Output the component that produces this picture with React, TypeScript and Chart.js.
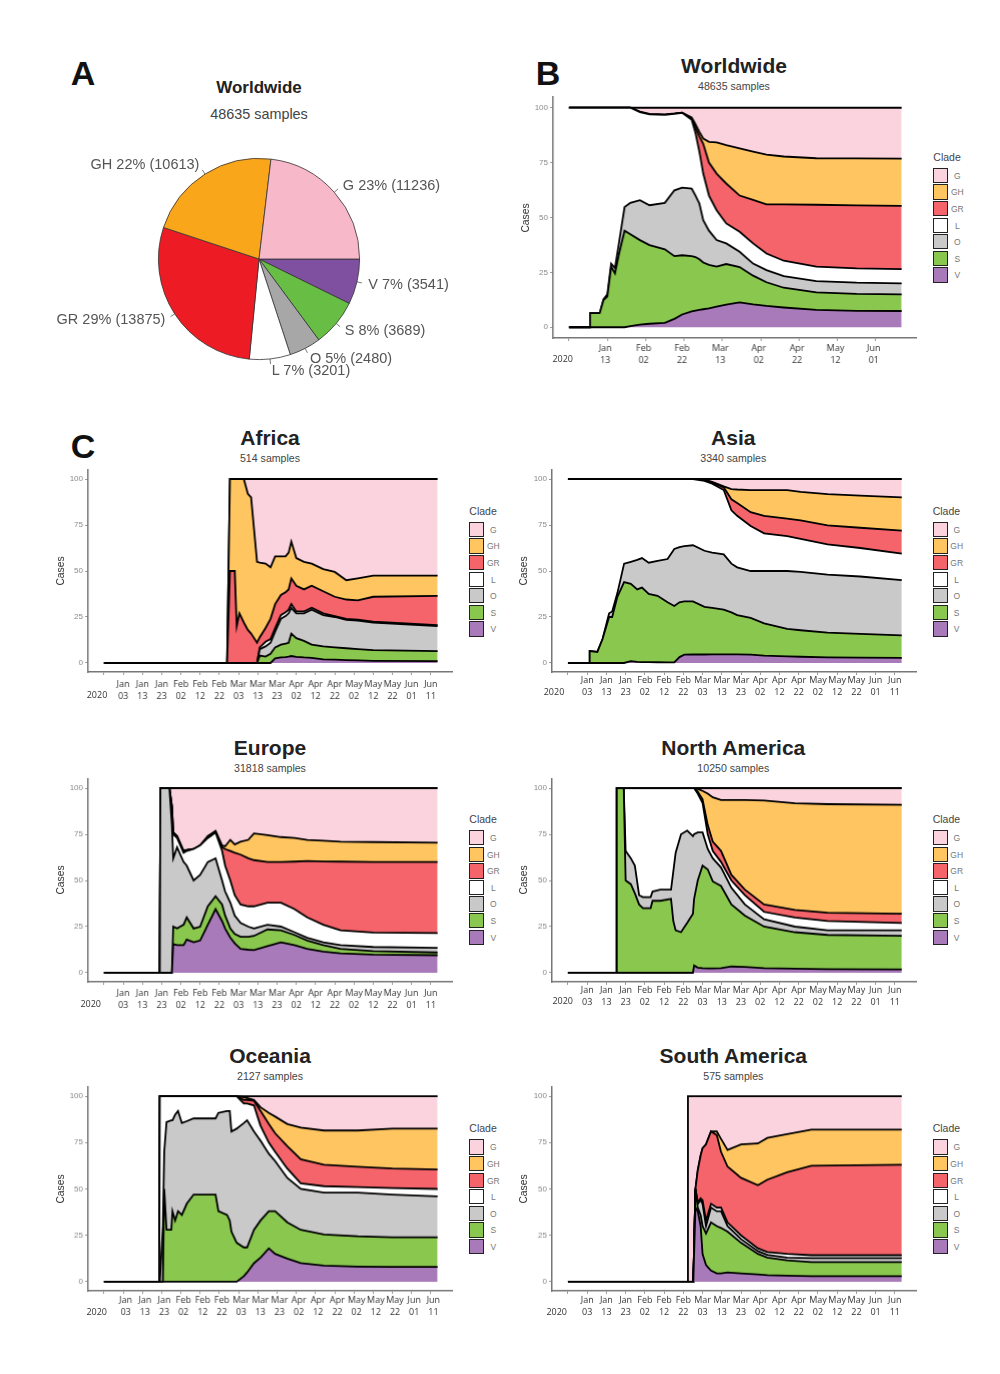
import { useEffect, useRef } from "react";
import { Chart, registerables } from "chart.js";

Chart.register(...registerables);

const clades = ["G", "GH", "GR", "L", "O", "S", "V"];
const cladeColors = ["#FAD3DE", "#FFC561", "#F4646A", "#FFFFFF", "#C9C9C9", "#8AC74F", "#A97AB9"];

// pie, clockwise from 3 o'clock, so the order is the reverse of the legend
const pieClades = ["V", "S", "O", "L", "GR", "GH", "G"];
const pieCounts = [3541, 3689, 2480, 3201, 13875, 10613, 11236];
const piePercents = [7, 8, 5, 7, 29, 22, 23];
const pieColors = ["#7F4FA0", "#68BD45", "#A7A7A7", "#FFFFFF", "#ED1C24", "#FAA61A", "#F7B8C9"];

// x axis ticks, days since 24 Dec 2019
const fineTicks = [0, 10, 20, 30, 40, 50, 60, 70, 80, 90, 100, 110, 120, 130, 140, 150, 160, 170];
const fineMonths = ["", "Jan", "Jan", "Jan", "Feb", "Feb", "Feb", "Mar", "Mar", "Mar", "Apr", "Apr", "Apr", "May", "May", "May", "Jun", "Jun"];
const fineDates = ["", "03", "13", "23", "02", "12", "22", "03", "13", "23", "02", "12", "22", "02", "12", "22", "01", "11"];
const coarseTicks = [0, 20, 40, 60, 80, 100, 120, 140, 160];
const coarseMonths = ["", "Jan", "Feb", "Feb", "Mar", "Apr", "Apr", "May", "Jun"];
const coarseDates = ["", "13", "02", "22", "13", "02", "22", "12", "01"];
const yTicks = [0, 25, 50, 75, 100];

// Each series is the upper edge of that clade's band

// Worldwide
const worldDays = [0, 10.8, 11, 16, 18, 20, 22, 24, 26, 29, 32, 37, 42, 50, 55, 59, 64, 66, 68, 70, 73, 77, 82, 89, 96, 103, 112, 129, 150, 173.5];
const worldV = [0, 0, 0, 0, 0, 0, 0, 0, 0, 0, 0.5, 1.2, 1.6, 2, 3.8, 5.8, 7.2, 7.6, 7.9, 8.2, 8.6, 9.4, 10.3, 11.3, 10.4, 9.7, 9, 7.9, 7.5, 7.4];
const worldS = [0, 0, 6.4, 6.4, 12.4, 14, 27.6, 24.5, 33, 44, 42.4, 39.7, 37.4, 35.5, 32.4, 32.8, 32.4, 32, 31, 29.5, 28.4, 27.6, 28.8, 27.4, 23.5, 20.5, 18, 15.9, 15.2, 15];
const worldO = [0, 0, 6.4, 6.4, 12.8, 15, 29, 27, 38, 54.8, 56.7, 57.9, 55.6, 56.7, 62.4, 63.6, 63.2, 60, 56.4, 48.8, 44, 39.7, 38.2, 34.4, 29, 26, 23.3, 21, 20.3, 20];
const worldL = [100, 100, 100, 100, 100, 100, 100, 100, 100, 100, 100, 98, 97, 96.8, 97.2, 97.7, 94.5, 88.5, 80, 70, 60, 53.3, 47.3, 43.5, 38.2, 33.6, 30.3, 27.6, 26.8, 26.5];
const worldGR = [100, 100, 100, 100, 100, 100, 100, 100, 100, 100, 100, 98, 97, 96.8, 97.2, 97.7, 95, 91, 87, 83.6, 75, 70, 65.5, 60, 58, 56, 56, 55.8, 55.5, 55.3];
const worldGH = [100, 100, 100, 100, 100, 100, 100, 100, 100, 100, 100, 98.2, 97.2, 97, 97.4, 97.8, 95.6, 92.5, 89, 86, 84.5, 84.2, 83, 81.5, 80, 78.6, 77.8, 77, 76.9, 76.8];
const worldG = [100, 100, 100, 100, 100, 100, 100, 100, 100, 100, 100, 100, 100, 100, 100, 100, 100, 100, 100, 100, 100, 100, 100, 100, 100, 100, 100, 100, 100, 100];

// Africa
const africaDays = [0, 64, 65.5, 68, 69, 70.4, 72.7, 74.8, 76.5, 79.6, 81, 84, 86.6, 89, 92, 94.4, 96, 97.4, 100, 104, 108, 114, 120, 126, 132, 140, 173.5];
const africaV = [0, 0, 0, 0, 0, 0, 0, 0, 0, 0, 0, 0, 0, 2.5, 3, 3.2, 3.5, 3.8, 3.3, 3, 2.8, 2, 1.8, 1.6, 1.4, 1.2, 1];
const africaS = [0, 0, 0, 0, 0, 0, 0, 0, 0, 0, 4, 3.5, 5, 8.5, 10, 10.5, 11, 16, 13.5, 12, 10, 9, 8.5, 8, 7.5, 7, 6.5];
const africaO = [0, 0, 0, 0, 0, 0, 0, 0, 0, 0, 7.5, 9, 11, 17, 24, 25.5, 27, 30, 27, 27, 29, 26, 25, 23.5, 23, 22, 20];
const africaL = [0, 0, 0, 0, 0, 0, 0, 0, 0, 0, 8.5, 11.5, 13, 19, 26, 27.5, 29, 32, 28, 28, 30, 27, 25.5, 24, 23.5, 22.5, 20.6];
const africaGR = [0, 0, 50, 50, 20, 27, 22, 18, 16, 11, 14, 19, 24, 32, 37, 38.5, 40, 46, 42, 40, 42, 39, 36, 34.5, 34, 36, 36.5];
const africaGH = [0, 0, 100, 100, 100, 100, 100, 92, 90, 55, 54.5, 54, 52, 58, 58, 58, 60, 66, 57, 55, 54, 51, 49.5, 45, 46, 47.5, 47.5];
const africaG = [0, 0, 100, 100, 100, 100, 100, 100, 100, 100, 100, 100, 100, 100, 100, 100, 100, 100, 100, 100, 100, 100, 100, 100, 100, 100, 100];

// Asia
const asiaDays = [0, 11, 11.3, 15.3, 18, 21.4, 23, 25.7, 29.2, 32.7, 36, 38.5, 42, 46.6, 51.8, 55.3, 58, 60.5, 65, 71, 75, 81, 85, 88, 95, 102, 114, 121, 135, 152, 173.6];
const asiaV = [0, 0, 0, 0, 0, 0, 0, 0, 0, 1, 0.6, 0.5, 0.5, 0.4, 0.3, 0.3, 3.2, 4.5, 4.6, 4.6, 4.7, 4.7, 4.7, 4.7, 4.5, 4, 3.6, 3.4, 3, 2.9, 2.8];
const asiaS = [0, 0, 6.5, 6, 13, 25, 25, 36, 44, 43, 40, 41, 37.5, 36.5, 33, 31, 33, 33.5, 33.5, 30.5, 30, 29, 27.5, 26, 24.5, 21.5, 18.5, 17.8, 16.5, 15.8, 15];
const asiaO = [0, 0, 6.5, 6, 13, 27, 28, 38, 54, 55, 56, 57, 54.5, 55.5, 56.5, 62, 63, 63.5, 64, 61, 60, 59, 54, 52, 50, 50, 50, 49.5, 48, 47, 45];
const asiaL = [100, 100, 100, 100, 100, 100, 100, 100, 100, 100, 100, 100, 100, 100, 100, 100, 100, 100, 100, 99, 97.5, 94, 83, 80, 74.5, 70.5, 69, 67.5, 64.5, 62.5, 59.5];
const asiaGR = [100, 100, 100, 100, 100, 100, 100, 100, 100, 100, 100, 100, 100, 100, 100, 100, 100, 100, 100, 99.5, 98, 95.5, 89, 87, 82, 80, 78.5, 77.5, 74.8, 73.5, 72];
const asiaGH = [100, 100, 100, 100, 100, 100, 100, 100, 100, 100, 100, 100, 100, 100, 100, 100, 100, 100, 100, 99.7, 98.5, 96, 94.5, 94.3, 94, 94, 94, 93, 91.8, 91, 90];
const asiaG = [100, 100, 100, 100, 100, 100, 100, 100, 100, 100, 100, 100, 100, 100, 100, 100, 100, 100, 100, 100, 100, 100, 100, 100, 100, 100, 100, 100, 100, 100, 100];

// Europe
const europeDays = [0, 29, 29.3, 34, 35.3, 36, 38, 41.4, 43, 46.6, 50, 54, 58, 61.4, 63, 65.7, 68, 71, 75, 78, 85, 92, 99, 105.7, 114, 123, 140, 173.5];
const europeV = [0, 0, 0, 0, 0, 15.5, 15, 15, 18, 16.5, 17.5, 26, 34.5, 28, 24, 19, 16, 13, 12.5, 12.3, 14.5, 16.5, 15, 13, 11.5, 10.5, 9.8, 9.5];
const europeS = [0, 0, 0, 0, 0, 25, 24, 26, 30, 24, 25, 36, 41.5, 37, 31, 24, 21, 19.5, 19.5, 20, 23.5, 23, 20.5, 17.5, 15, 13, 11.8, 11];
const europeO = [0, 0, 100, 100, 80, 62, 68, 60, 58, 50, 53, 60, 62, 50, 44, 38, 31, 27, 25, 24, 26, 25, 22, 19, 16.5, 15, 14, 13.5];
const europeL = [0, 0, 100, 100, 90, 75, 73, 65, 66, 67, 69, 73, 76, 66, 58, 50, 42, 37, 36, 36, 38, 38, 34.5, 30, 26, 23, 21.8, 21.5];
const europeGR = [0, 0, 100, 100, 90, 76, 74, 66, 66.5, 67, 69, 74, 76.5, 68, 67, 66, 65, 64, 62, 61, 60, 60, 60.2, 60.5, 60.3, 60.2, 60, 60];
const europeGH = [0, 0, 100, 100, 90, 76, 74, 66, 66.5, 67, 69, 74, 76.8, 69, 68.5, 72, 69.5, 71, 72, 75.5, 74.5, 73.5, 73, 72, 71.5, 71, 70.8, 70.5];
const europeG = [0, 0, 100, 100, 100, 100, 100, 100, 100, 100, 100, 100, 100, 100, 100, 100, 100, 100, 100, 100, 100, 100, 100, 100, 100, 100, 100, 100];

// North America
const northDays = [0, 25, 25.4, 29, 30, 32.7, 34.8, 37, 39, 43, 44, 48, 53.6, 54.8, 56, 58.8, 62, 65, 65.6, 67.5, 70, 72.7, 75.3, 79.6, 85, 92, 102, 118, 135, 173.6];
const northV = [0, 0, 0, 0, 0, 0, 0, 0, 0, 0, 0, 0, 0, 0, 0, 0, 0, 0, 4, 2.8, 2.5, 2.4, 2.4, 2.5, 3.4, 3.2, 2.5, 2.2, 2, 1.8];
const northS = [0, 0, 100, 100, 50, 48, 43, 37, 35, 35, 39, 39, 40, 28, 23, 22, 27, 32, 40, 50, 58, 56, 49.5, 47, 37, 31, 25, 22, 20.5, 20];
const northO = [0, 0, 100, 100, 66, 62, 58, 42, 41, 41, 44, 45, 45, 55, 65, 75, 77, 74, 75, 76, 76, 67, 62, 57, 46, 37, 29, 25, 23, 23];
const northL = [0, 0, 100, 100, 100, 100, 100, 100, 100, 100, 100, 100, 100, 100, 100, 100, 100, 100, 100, 97, 92, 75, 66, 60, 50, 42, 33, 30, 28, 27];
const northGR = [0, 0, 100, 100, 100, 100, 100, 100, 100, 100, 100, 100, 100, 100, 100, 100, 100, 100, 100, 98, 94, 80, 71, 66, 53, 45, 37, 34, 32.5, 32];
const northGH = [0, 0, 100, 100, 100, 100, 100, 100, 100, 100, 100, 100, 100, 100, 100, 100, 100, 100, 100, 99.5, 98.5, 97, 95, 93.5, 93.5, 93.5, 93.3, 91.8, 91.3, 91];
const northG = [0, 0, 100, 100, 100, 100, 100, 100, 100, 100, 100, 100, 100, 100, 100, 100, 100, 100, 100, 100, 100, 100, 100, 100, 100, 100, 100, 100, 100, 100];

// Oceania
const oceaniaDays = [0, 28.7, 29, 30.6, 31.3, 32.5, 35, 35.6, 37, 38.5, 40.5, 43, 46.6, 58, 59.5, 64, 65.4, 66.3, 69, 72.7, 74.4, 78, 81.4, 85.7, 89, 95.3, 102.3, 114.4, 132, 150, 173.5];
const oceaniaV = [0, 0, 0, 0, 0, 0, 0, 0, 0, 0, 0, 0, 0, 0, 0, 0, 0, 0, 0, 3, 5, 10, 13, 18, 15, 12.5, 10, 8.7, 8.2, 8, 8];
const oceaniaS = [0, 0, 0, 0, 50, 28, 28, 38, 33, 38, 36, 42, 47, 47, 38, 36, 33, 27, 21, 18.5, 18.5, 28, 33, 38, 38, 32, 28, 25.5, 24.5, 24, 24];
const oceaniaO = [0, 0, 0, 30, 70, 86, 87, 87, 90, 92, 85.5, 86.5, 88, 88, 91, 92, 92, 81, 82.5, 85.5, 87, 81, 76, 69, 65, 56, 50, 48, 48, 47, 46];
const oceaniaL = [0, 0, 100, 100, 100, 100, 100, 100, 100, 100, 100, 100, 100, 100, 100, 100, 100, 100, 100, 96, 96, 95, 84, 75, 70, 61, 53, 51.5, 51, 50.5, 50];
const oceaniaGR = [0, 0, 100, 100, 100, 100, 100, 100, 100, 100, 100, 100, 100, 100, 100, 100, 100, 100, 100, 98, 98, 97.5, 92, 85, 80, 73, 66, 63, 62, 61, 60.5];
const oceaniaGH = [0, 0, 100, 100, 100, 100, 100, 100, 100, 100, 100, 100, 100, 100, 100, 100, 100, 100, 100, 99.5, 99, 98, 94, 91, 89, 85, 83, 81.5, 81.5, 82.5, 82.5];
const oceaniaG = [0, 0, 100, 100, 100, 100, 100, 100, 100, 100, 100, 100, 100, 100, 100, 100, 100, 100, 100, 100, 100, 100, 100, 100, 100, 100, 100, 100, 100, 100, 100];

// South America
const southDays = [0, 62, 62.4, 65.2, 66.3, 67.5, 69, 70, 71.8, 74.4, 77.4, 79.6, 83, 90, 98.8, 103.7, 114, 126.6, 173.6];
const southV = [0, 0, 0, 0, 40, 38, 30, 15, 9, 6, 4.5, 4.5, 5, 4.5, 4, 3.6, 3.3, 3, 3];
const southS = [0, 0, 0, 0, 50, 40, 36, 30, 26, 32, 30, 29, 27, 21, 15, 13, 11.5, 10.6, 10.6];
const southO = [0, 0, 0, 0, 50, 42, 44, 42, 30, 40, 38, 38, 30, 23, 16.5, 14.5, 13, 12.8, 12.8];
const southL = [0, 0, 0, 0, 50, 43, 45, 44, 33, 42, 40, 40, 32, 25, 18, 16, 15, 14.3, 14.3];
const southGR = [0, 0, 0, 0, 50, 60, 68, 72, 74, 81, 79, 70, 62, 56, 52, 55, 59, 62.5, 63];
const southGH = [0, 0, 0, 0, 50, 60, 68, 72, 74, 81, 81, 77, 71, 74, 74.5, 77.5, 79.5, 82, 82];
const southG = [0, 0, 100, 100, 100, 100, 100, 100, 100, 100, 100, 100, 100, 100, 100, 100, 100, 100, 100];

const textFont = "'Liberation Sans', Arial, sans-serif";

interface PanelProps {
  title: string;
  samples: string;
  days: number[];
  // bottom band first: V, S, O, L, GR, GH, G
  edges: number[][];
  coarse?: boolean;
  left: number;
  right: number;
  top: number;
  bottom: number;
  titleX: number;
  titleY: number;
  subY: number;
  legendX: number;
  legendY: number;
  yearX: number;
  yearY: number;
  tickPad: number;
  labelShift: number;
  casesX: number;
}

const Label = ({ x, y, size, color, bold, children, rotate }: any) => (
  <div
    style={{
      position: "absolute",
      left: x,
      top: y,
      transform: `translate(-50%, -50%)${rotate ? " rotate(-90deg)" : ""}`,
      fontFamily: textFont,
      fontSize: size,
      fontWeight: bold ? "bold" : "normal",
      color,
      whiteSpace: "nowrap",
      lineHeight: 1,
    }}
  >
    {children}
  </div>
);

function AreaPanel(p: PanelProps) {
  const chartRef = useRef<HTMLCanvasElement>(null);
  const padLeft = 30;
  const padRight = 10;
  const padTop = 5;
  const axisHeight = 38;
  const w = p.right - p.left + padLeft + padRight;
  const h = p.bottom - p.top + padTop + axisHeight;

  useEffect(() => {
    if (!chartRef.current) return;
    const colors = [...cladeColors].reverse();
    const tickValues = p.coarse ? coarseTicks : fineTicks;
    const months = p.coarse ? coarseMonths : fineMonths;
    const dates = p.coarse ? coarseDates : fineDates;

    const chart = new Chart(chartRef.current, {
      type: "line",
      data: {
        datasets: p.edges.map((edge, i) => ({
          data: edge.map((y, j) => ({ x: p.days[j], y })),
          borderColor: "#000",
          borderWidth: 1.8,
          backgroundColor: colors[i],
          fill: i === 0 ? "origin" : "-1",
          pointRadius: 0,
          tension: 0,
        })),
      },
      options: {
        responsive: false,
        animation: false,
        events: [],
        layout: { padding: { top: padTop, right: padRight } },
        plugins: { legend: { display: false }, tooltip: { enabled: false } },
        scales: {
          x: {
            type: "linear",
            min: -8.3,
            max: 181,
            afterBuildTicks: (scale: any) => {
              scale.ticks = tickValues.map((value) => ({ value }));
            },
            afterFit: (scale: any) => {
              scale.height = axisHeight;
              scale.paddingLeft = 0;
              scale.paddingRight = 0;
            },
            border: { color: "#777", width: 1.5 },
            grid: { drawOnChartArea: false, drawTicks: true, tickLength: 3, color: "#999" },
            ticks: {
              autoSkip: false,
              maxRotation: 0,
              padding: p.tickPad,
              labelOffset: p.labelShift,
              color: "#333",
              font: { family: "'Open Sans'", size: 9, lineHeight: 1.3 },
              callback: (_v: any, i: number) => [months[i], dates[i]],
            },
          },
          y: {
            min: -4.9,
            max: 104.9,
            afterBuildTicks: (scale: any) => {
              scale.ticks = yTicks.map((value) => ({ value }));
            },
            afterFit: (scale: any) => {
              scale.width = padLeft;
              scale.paddingTop = 0;
              scale.paddingBottom = 0;
            },
            border: { color: "#777", width: 1.5 },
            grid: { drawOnChartArea: false, drawTicks: true, tickLength: 3, color: "#999" },
            ticks: {
              padding: 2,
              color: "#888",
              font: { family: textFont, size: 8 },
              callback: (v: any) => String(v),
            },
          },
        },
      },
    } as any);

    return () => chart.destroy();
  }, []);

  return (
    <>
      <canvas
        ref={chartRef}
        width={w}
        height={h}
        style={{ position: "absolute", left: p.left - padLeft, top: p.top - padTop, width: w, height: h }}
      />
      <Label x={p.titleX} y={p.titleY} size={21} color="#222" bold>{p.title}</Label>
      <Label x={p.titleX} y={p.subY} size={10.6} color="#444">{p.samples}</Label>
      <Label x={p.casesX} y={(p.top + p.bottom) / 2} size={10.3} color="#333" rotate>Cases</Label>
      <Label x={p.yearX} y={p.yearY} size={9} color="#333">
        <span style={{ fontFamily: "'Open Sans'" }}>2020</span>
      </Label>
      <div
        style={{
          position: "absolute",
          left: p.legendX,
          top: p.legendY - 17,
          fontFamily: textFont,
          fontSize: 10.5,
          color: "#444",
          lineHeight: "12px",
        }}
      >
        Clade
      </div>
      {clades.map((c, i) => (
        <div key={c}>
          <div
            style={{
              position: "absolute",
              left: p.legendX,
              top: p.legendY + i * 16.6,
              width: 13,
              height: 13.4,
              background: cladeColors[i],
              border: "1.6px solid #222",
            }}
          />
          <Label x={p.legendX + 24} y={p.legendY + i * 16.6 + 8} size={8.5} color="#777">{c}</Label>
        </div>
      ))}
    </>
  );
}

const pieLabelSpots = [
  { x: 408.5, y: 284 },
  { x: 385, y: 330 },
  { x: 351, y: 358 },
  { x: 311, y: 370 },
  { x: 111, y: 319 },
  { x: 145, y: 164 },
  { x: 391.5, y: 185 },
];

function WorldPie() {
  const chartRef = useRef<HTMLCanvasElement>(null);

  useEffect(() => {
    if (!chartRef.current) return;
    const leaders = {
      id: "leaders",
      afterDatasetsDraw(chart: any) {
        const ctx = chart.ctx;
        ctx.save();
        ctx.strokeStyle = "#555";
        ctx.lineWidth = 0.8;
        chart.getDatasetMeta(0).data.forEach((arc: any) => {
          const mid = (arc.startAngle + arc.endAngle) / 2;
          ctx.beginPath();
          ctx.moveTo(arc.x + Math.cos(mid) * arc.outerRadius, arc.y + Math.sin(mid) * arc.outerRadius);
          ctx.lineTo(arc.x + Math.cos(mid) * (arc.outerRadius + 5), arc.y + Math.sin(mid) * (arc.outerRadius + 5));
          ctx.stroke();
        });
        ctx.restore();
      },
    };
    const chart = new Chart(chartRef.current, {
      type: "pie",
      data: {
        labels: pieClades,
        datasets: [{ data: pieCounts, backgroundColor: pieColors, borderColor: "#333", borderWidth: 0.8 }],
      },
      options: {
        responsive: false,
        animation: false,
        events: [],
        rotation: 90,
        layout: { padding: 10 },
        plugins: { legend: { display: false }, tooltip: { enabled: false } },
      },
      plugins: [leaders],
    } as any);
    return () => chart.destroy();
  }, []);

  return (
    <>
      <canvas
        ref={chartRef}
        width={222}
        height={222}
        style={{ position: "absolute", left: 148.3, top: 148, width: 222, height: 222 }}
      />
      {pieClades.map((c, i) => (
        <Label key={c} x={pieLabelSpots[i].x} y={pieLabelSpots[i].y} size={14.5} color="#555">
          {`${c} ${piePercents[i]}% (${pieCounts[i]})`}
        </Label>
      ))}
    </>
  );
}

const edgesOf = (...series: number[][]) => series;

export default function App() {
  return (
    <div style={{ position: "absolute", left: 0, top: 0, width: 1000, height: 1374, background: "#fff", overflow: "hidden" }}>
      <Label x={83} y={73} size={34} color="#111" bold>A</Label>
      <Label x={548} y={73} size={34} color="#111" bold>B</Label>
      <Label x={83} y={446} size={34} color="#111" bold>C</Label>

      <Label x={259} y={87} size={17} color="#222" bold>Worldwide</Label>
      <Label x={259} y={114} size={14.4} color="#444">48635 samples</Label>
      <WorldPie />

      <AreaPanel
        title="Worldwide" samples="48635 samples" coarse
        days={worldDays} edges={edgesOf(worldV, worldS, worldO, worldL, worldGR, worldGH, worldG)}
        left={553.3} right={916} top={96.7} bottom={338.3}
        titleX={734} titleY={65} subY={85.7} legendX={933.3} legendY={167.7}
        yearX={562.7} yearY={359.3} tickPad={2} labelShift={-2} casesX={526}
      />
      <AreaPanel
        title="Africa" samples="514 samples"
        days={africaDays} edges={edgesOf(africaV, africaS, africaO, africaL, africaGR, africaGH, africaG)}
        left={88.3} right={452} top={470} bottom={672.3}
        titleX={270} titleY={437} subY={458.3} legendX={469.3} legendY={521.7}
        yearX={97} yearY={695} tickPad={3.7} labelShift={0} casesX={60.7}
      />
      <AreaPanel
        title="Asia" samples="3340 samples"
        days={asiaDays} edges={edgesOf(asiaV, asiaS, asiaO, asiaL, asiaGR, asiaGH, asiaG)}
        left={551.7} right={916} top={470} bottom={672.3}
        titleX={733.3} titleY={437} subY={458.3} legendX={932.7} legendY={521.7}
        yearX={554} yearY={691.7} tickPad={0} labelShift={0} casesX={524}
      />
      <AreaPanel
        title="Europe" samples="31818 samples"
        days={europeDays} edges={edgesOf(europeV, europeS, europeO, europeL, europeGR, europeGH, europeG)}
        left={88.3} right={452} top={779} bottom={981.7}
        titleX={270} titleY={746.7} subY={767.7} legendX={469.3} legendY={830}
        yearX={90.7} yearY={1004} tickPad={3} labelShift={0} casesX={60.7}
      />
      <AreaPanel
        title="North America" samples="10250 samples"
        days={northDays} edges={edgesOf(northV, northS, northO, northL, northGR, northGH, northG)}
        left={551.7} right={916} top={779} bottom={981.7}
        titleX={733.3} titleY={746.7} subY={767.7} legendX={932.7} legendY={830}
        yearX={562.7} yearY={1000.7} tickPad={0} labelShift={0} casesX={524}
      />
      <AreaPanel
        title="Oceania" samples="2127 samples"
        days={oceaniaDays} edges={edgesOf(oceaniaV, oceaniaS, oceaniaO, oceaniaL, oceaniaGR, oceaniaGH, oceaniaG)}
        left={88.3} right={452} top={1087.3} bottom={1291}
        titleX={270} titleY={1055} subY={1076} legendX={469.3} legendY={1139.3}
        yearX={96.7} yearY={1311.7} tickPad={1} labelShift={2.5} casesX={60.7}
      />
      <AreaPanel
        title="South America" samples="575 samples"
        days={southDays} edges={edgesOf(southV, southS, southO, southL, southGR, southGH, southG)}
        left={551.7} right={916} top={1087.3} bottom={1291}
        titleX={733.3} titleY={1055} subY={1076} legendX={932.7} legendY={1139.3}
        yearX={556.7} yearY={1311.7} tickPad={1} labelShift={0} casesX={524}
      />
    </div>
  );
}
